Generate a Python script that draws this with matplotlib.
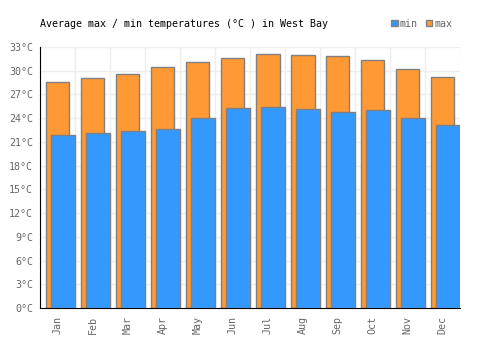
import matplotlib
matplotlib.use('Agg')
from matplotlib import pyplot as plt
from matplotlib.patches import Rectangle

months = ['Jan', 'Feb', 'Mar', 'Apr', 'May', 'Jun', 'Jul', 'Aug', 'Sep', 'Oct', 'Nov', 'Dec']
max_temp = [28.6, 29.1, 29.6, 30.5, 31.1, 31.6, 32.1, 32.0, 31.9, 31.4, 30.2, 29.2]
min_temp = [21.9, 22.1, 22.4, 22.6, 24.0, 25.3, 25.4, 25.2, 24.8, 25.0, 24.0, 23.1]
yticks = list(range(0, 34, 3))

orange = '#ff9933'
blue = '#3399ff'
edge = '#808080'
gray = '#666666'
fs = 7.2

plt.rcParams['font.family'] = 'DejaVu Sans Mono'

fig = plt.figure(figsize=(5, 3.5), dpi=100)
ax = fig.add_axes([0.08, 0.12, 0.84, 0.746])

xs = list(range(len(months)))
ax.bar([x + 6 / 35 for x in xs], max_temp, width=23.5 / 35, align='edge',
       color=orange, edgecolor=edge, linewidth=1, zorder=2)
ax.bar([x + 11 / 35 for x in xs], min_temp, width=24 / 35, align='edge',
       color=blue, edgecolor=edge, linewidth=1, zorder=3)

ax.set_xlim(0, 12)
ax.set_ylim(0, 33)
ax.set_yticks(yticks)
ax.set_yticklabels([f'{t}°C' for t in yticks], color=gray, fontsize=fs)
ax.set_xticks([x + 0.5 for x in xs])
ax.set_xticklabels(months, rotation=90, color=gray, fontsize=fs)
ax.set_xticks(range(13), minor=True)
ax.tick_params(which='both', length=0)
ax.tick_params(axis='y', pad=5)
ax.tick_params(axis='x', pad=6)

ax.grid(True, axis='y', color='#eeeeee', linewidth=1, zorder=0)
ax.grid(True, axis='x', which='minor', color='#eeeeee', linewidth=1, zorder=0)
ax.set_axisbelow(True)

for s in ['top', 'right']:
    ax.spines[s].set_visible(False)
ax.spines['left'].set_color('black')
ax.spines['bottom'].set_color('black')

fig.text(0.08, 0.931, 'Average max / min temperatures (°C ) in West Bay',
         fontsize=fs, color='black', va='center')

# legend
for lx, col, lab in [(0.782, blue, 'min'), (0.851, orange, 'max')]:
    fig.patches.append(Rectangle((lx, 0.925), 0.013, 0.019, transform=fig.transFigure,
                                 facecolor=col, edgecolor=edge, linewidth=1))
    fig.text(lx + 0.018, 0.931, lab, fontsize=fs, color=gray, va='center')

fig.savefig('out.png', dpi=100)
